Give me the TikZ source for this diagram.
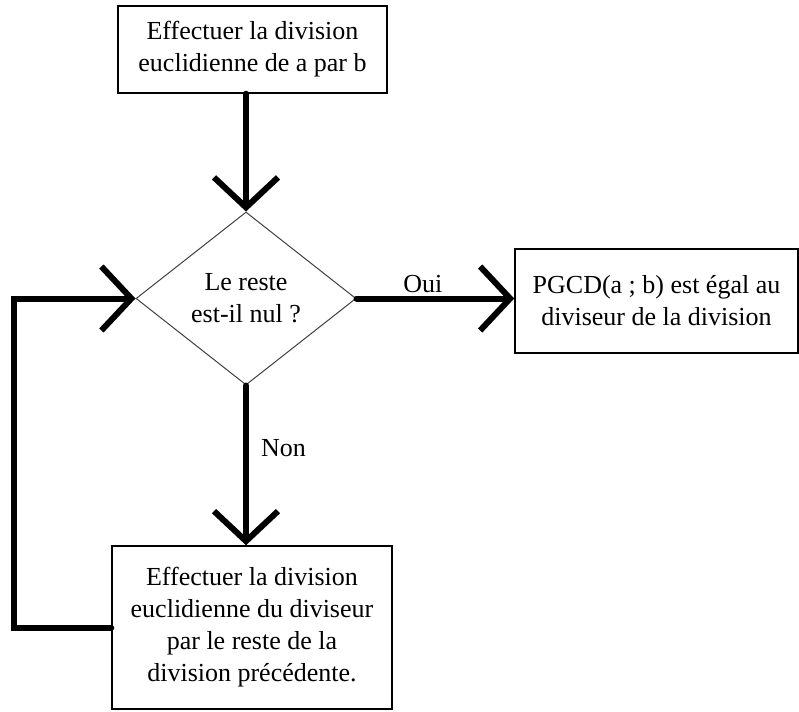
\documentclass[tikz,border=0pt]{standalone}
\usepackage{fontspec}
\setmainfont{Liberation Serif}
\usetikzlibrary{shapes.geometric,arrows.meta}
\begin{document}
\begin{tikzpicture}[x=1pt,y=-1pt,font=\fontsize{26}{32}\selectfont,
  boite/.style={draw,line width=1.5pt,align=center,inner sep=0pt},
  losange/.style={diamond,draw=black!75,line width=1pt,align=center,inner sep=0pt,
    minimum width=220pt,minimum height=173pt},
  fleche/.style={line width=6pt,line cap=round,-{Straight Barb[length=30pt,width=64pt]}}]

\useasboundingbox (0,0) rectangle (799,711);

% les blocs
\node[boite,minimum width=269pt,minimum height=87pt] (debut) at (252.5,49.5)
  {Effectuer la division\\euclidienne de a par b};
\node[losange] (test) at (246,298.5) {Le reste\\est-il nul ?};
\node[boite,minimum width=283pt,minimum height=104pt] (pgcd) at (656.5,301)
  {PGCD(a ; b) est égal au\\diviseur de la division};
\node[boite,minimum width=280pt,minimum height=163pt] (suite) at (252,627.5)
  {Effectuer la division\\euclidienne du diviseur\\par le reste de la\\division précédente.};

% les fleches
\draw[fleche] (test.north |- debut.south) -- (test.north);
\draw[fleche] (test.east) -- node[pos=.42,above,inner sep=3pt] {Oui} (test.east -| pgcd.west);
\draw[fleche] (test.south) -- node[pos=.39,right,inner sep=12pt] {Non} (test.south |- suite.north);
\draw[fleche] (suite.west) -- ++(-97,0) |- (test.west);

\end{tikzpicture}
\end{document}
